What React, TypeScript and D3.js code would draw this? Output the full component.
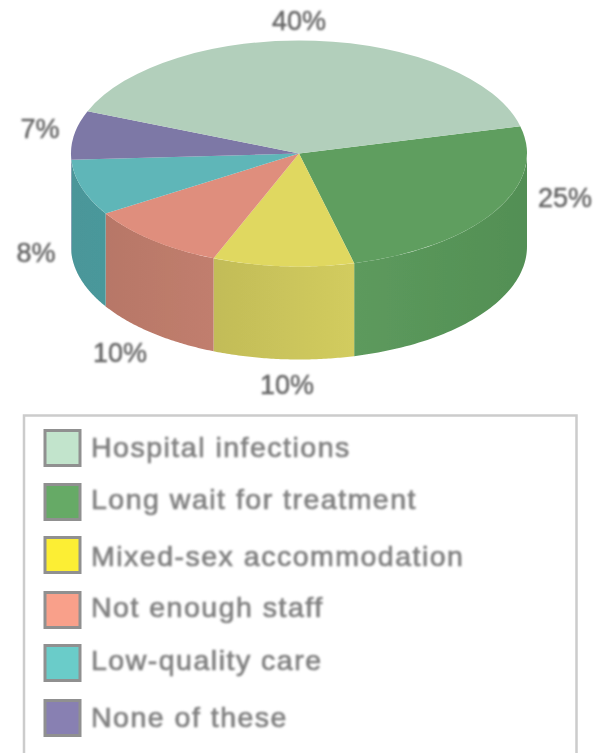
import * as d3 from 'd3';

const categories = ['Hospital infections', 'Long wait for treatment', 'Mixed-sex accommodation', 'Not enough staff', 'Low-quality care', 'None of these'];
const shares = [40, 25, 10, 10, 8, 7];
const pieOrder = [1, 2, 3, 4, 5, 0]; // drawn clockwise starting from the green slice

const topColors = ['#b2cfbb', '#5f9e5f', '#e0d860', '#df8e7d', '#5eb6b8', '#7d78a6'];
const sideFrom = ['#b2cfbb', '#5d9a5d', '#c2bc58', '#b77767', '#4b9699', '#7d78a6'];
const sideTo = ['#b2cfbb', '#528f54', '#d2cc5e', '#c17e6e', '#4a989b', '#7d78a6'];
const legendColors = ['#c2e4cc', '#66aa66', '#fcee34', '#f9a08a', '#6accc9', '#8880b2'];

// label anchors in page pixels, same order as categories
const labelAnchors: [number, number][] = [[299, 30], [565, 207], [287, 394], [120, 362], [36, 262], [40, 138]];
// the legend rows are not quite evenly spaced in the source
const swatchNudge = [0, 0, -1, 0, -1, 0];
const textNudge = [0, -2, 1, -2, -3, 0];

const W = 596;
const H = 753;
const cx = 299;
const cy = 153.5;
const rx = 228;
const ry = 113;
const depth = 93;
const startDeg = 76;

const pieGen = d3.pie<number>()
  .sort(null)
  .value(i => shares[i])
  .startAngle((startDeg * Math.PI) / 180)
  .endAngle(((startDeg + 360) * Math.PI) / 180);

const slices = pieGen(pieOrder);
const arcGen = d3.arc<d3.PieArcDatum<number>>().innerRadius(0).outerRadius(rx);

const rowY = d3.scaleLinear().domain([0, 5]).range([429, 699]);

const edgePoint = (a: number, dy: number): [number, number] => [cx + rx * Math.sin(a), cy - ry * Math.cos(a) + dy];

// wall of one slice, only the part facing the viewer
const sidePath = (a0: number, a1: number) => {
  const from = Math.max(a0, Math.PI / 2);
  const to = Math.min(a1, (3 * Math.PI) / 2);
  if (to <= from) return null;
  const steps = d3.range(0, 61).map(k => from + ((to - from) * k) / 60);
  const pts = [...steps.map(a => edgePoint(a, 0)), ...[...steps].reverse().map(a => edgePoint(a, depth))];
  return { d: (d3.line()(pts) || '') + 'Z', x0: edgePoint(from, 0)[0], x1: edgePoint(to, 0)[0] };
};

export default function App() {
  const fontFamily = '"Liberation Sans", Arial, sans-serif';
  return (
    <svg width={W} height={H} style={{ position: 'absolute', left: 0, top: 0, background: '#fff' }}>
      <defs>
        <filter id="soft" x="-10%" y="-30%" width="120%" height="160%">
          <feGaussianBlur stdDeviation="0.8" />
        </filter>
        <filter id="edge" x="-5%" y="-5%" width="110%" height="110%">
          <feGaussianBlur stdDeviation="0.6" />
        </filter>
        {slices.map(s => {
          const side = sidePath(s.startAngle, s.endAngle);
          if (!side) return null;
          return (
            <linearGradient key={s.data} id={`side-${s.data}`} gradientUnits="userSpaceOnUse" x1={side.x1} x2={side.x0} y1={0} y2={0}>
              <stop offset="0%" stopColor={sideFrom[s.data]} />
              <stop offset="100%" stopColor={sideTo[s.data]} />
            </linearGradient>
          );
        })}
      </defs>

      <g filter="url(#edge)">
        {slices.map(s => {
          const side = sidePath(s.startAngle, s.endAngle);
          return side ? <path key={s.data} d={side.d} fill={`url(#side-${s.data})`} /> : null;
        })}
        <g transform={`translate(${cx},${cy}) scale(1,${ry / rx})`}>
          {slices.map(s => (
            <path key={s.data} d={arcGen(s) || ''} fill={topColors[s.data]} />
          ))}
        </g>
      </g>

      <g filter="url(#soft)" fontFamily={fontFamily} fontSize={27} fill="#666" stroke="#666" strokeWidth={0.5} textAnchor="middle">
        {categories.map((c, i) => (
          <text key={c} x={labelAnchors[i][0]} y={labelAnchors[i][1]}>{shares[i]}%</text>
        ))}
      </g>

      {/* legend box runs off the bottom of the page */}
      <path d={`M24,${H + 5}V415.5H576.5V${H + 5}`} fill="none" stroke="#ccc" strokeWidth={2.5} />
      {categories.map((c, i) => (
        <g key={c}>
          <rect x={45} y={rowY(i) + 1.5 + swatchNudge[i]} width={35} height={35} fill={legendColors[i]} stroke="#909090" strokeWidth={3} />
          <text
            x={91}
            y={rowY(i) + 28 + textNudge[i]}
            fontFamily={fontFamily}
            fontSize={28.5}
            letterSpacing={1.5}
            fill="#808080"
            stroke="#808080"
            strokeWidth={0.7}
            filter="url(#soft)"
          >
            {c}
          </text>
        </g>
      ))}
    </svg>
  );
}
